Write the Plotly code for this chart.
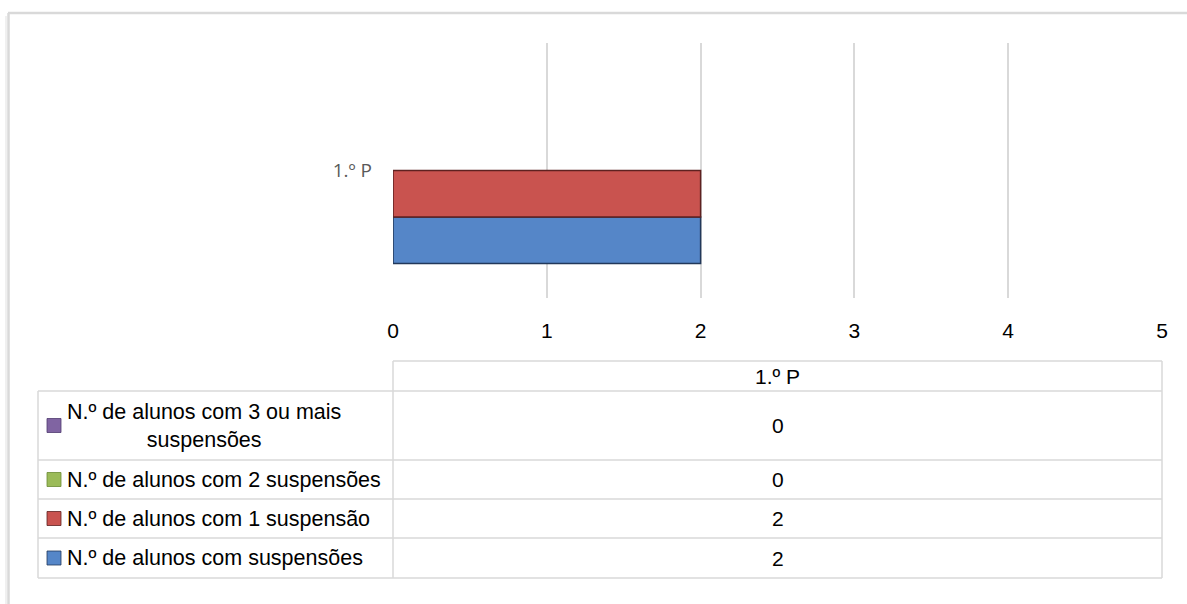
import plotly.graph_objects as go

# ---- data ----
categories = ["1.º P"]
series_names = [
    "N.º de alunos com suspensões",
    "N.º de alunos com 1 suspensão",
    "N.º de alunos com 2 suspensões",
    "N.º de alunos com 3 ou mais<br>suspensões",
]
series_values = [
    [2],
    [2],
    [0],
    [0],
]
series_colors = ["#5586C8", "#C9534F", "#9BBB59", "#8064A2"]
series_edges = ["#22385A", "#5E2120", "#6A8A32", "#4F3A6E"]
x_ticks = [0, 1, 2, 3, 4, 5]

W, H = 1187, 604
FONT = "Liberation Sans, Arial, sans-serif"
GRID = "#D9D9D9"


def px(x):
    return x / W


def py(y):
    return 1 - y / H


fig = go.Figure()
for name, vals, col, edge in zip(series_names, series_values, series_colors, series_edges):
    fig.add_trace(go.Bar(
        y=categories, x=vals, orientation="h", name=name,
        marker=dict(color=col, line=dict(color=edge, width=[1.5 if v else 0 for v in vals])),
        showlegend=False, hoverinfo="skip",
    ))

# plot area from pixel positions
x0, x1 = 393, 1162
y_top, y_bot = 43, 298

fig.update_layout(
    width=W, height=H,
    margin=dict(l=0, r=0, t=0, b=0, autoexpand=False),
    paper_bgcolor="white", plot_bgcolor="white",
    barmode="group", bargap=0.27, bargroupgap=0,
    xaxis=dict(
        domain=[px(x0), px(x1)], range=[0, 5], tickvals=x_ticks,
        showgrid=True, gridcolor=GRID, gridwidth=1.5, zeroline=False,
        showline=False, ticks="", ticklabelstandoff=18, automargin=False,
        tickfont=dict(family=FONT, size=21, color="#000000"),
        fixedrange=True,
    ),
    yaxis=dict(
        domain=[py(y_bot), py(y_top)],
        showgrid=False, zeroline=False, showline=False, ticks="",
        ticklabelstandoff=20, automargin=False,
        tickfont=dict(family="Open Sans, Noto Sans, sans-serif", size=19, color="#595959"),
        fixedrange=True,
    ),
)

shapes = []
annotations = []


def hline(y, xa, xb, color=GRID, width=1.5):
    shapes.append(dict(type="line", xref="paper", yref="paper",
                       x0=px(xa), x1=px(xb), y0=py(y), y1=py(y),
                       line=dict(color=color, width=width)))


def vline(x, ya, yb, color=GRID, width=1.5):
    shapes.append(dict(type="line", xref="paper", yref="paper",
                       x0=px(x), x1=px(x), y0=py(ya), y1=py(yb),
                       line=dict(color=color, width=width)))


# outer frame (top and left border)
hline(13, 8, 1187, color="#D9D9D9", width=2.5)
vline(8.5, 13, 604, color="#D9D9D9", width=2.5)
vline(6, 16, 604, color="#F0F0F0", width=2)

# data table
tab_left, tab_mid, tab_right = 38, 393, 1162
header_top, header_bot = 361, 391
row_bounds = [391, 460, 499, 538, 578]

hline(header_top, tab_mid, tab_right)
for yb in row_bounds:
    hline(yb, tab_left, tab_right)
vline(tab_left, row_bounds[0], row_bounds[-1])
vline(tab_mid, header_top, row_bounds[-1])
vline(tab_right, header_top, row_bounds[-1])

annotations.append(dict(
    xref="paper", yref="paper", x=px((tab_mid + tab_right) / 2), y=py((header_top + header_bot) / 2),
    text=categories[0], showarrow=False, xanchor="center", yanchor="middle",
    font=dict(family=FONT, size=21, color="#000000"),
))

order = list(range(len(series_names)))[::-1]  # top row = last series
for r, si in enumerate(order):
    ya, yb = row_bounds[r], row_bounds[r + 1]
    yc = (ya + yb) / 2
    # swatch
    shapes.append(dict(type="rect", xref="paper", yref="paper",
                       x0=px(47), x1=px(61), y0=py(yc - 7), y1=py(yc + 7),
                       fillcolor=series_colors[si], line=dict(color=series_edges[si], width=0.8)))
    annotations.append(dict(
        xref="paper", yref="paper", x=px(65), y=py(yc),
        text=series_names[si], showarrow=False, xanchor="left", yanchor="middle",
        align="center",
        font=dict(family=FONT, size=21.5, color="#000000"),
    ))
    annotations.append(dict(
        xref="paper", yref="paper", x=px((tab_mid + tab_right) / 2), y=py(yc),
        text=str(series_values[si][0]), showarrow=False, xanchor="center", yanchor="middle",
        font=dict(family=FONT, size=21, color="#000000"),
    ))

fig.update_layout(shapes=shapes, annotations=annotations)
fig.write_html(
    "out.html",
    config={"displayModeBar": False},
    post_script="document.body.style.margin='0';document.body.style.overflow='hidden';",
)
